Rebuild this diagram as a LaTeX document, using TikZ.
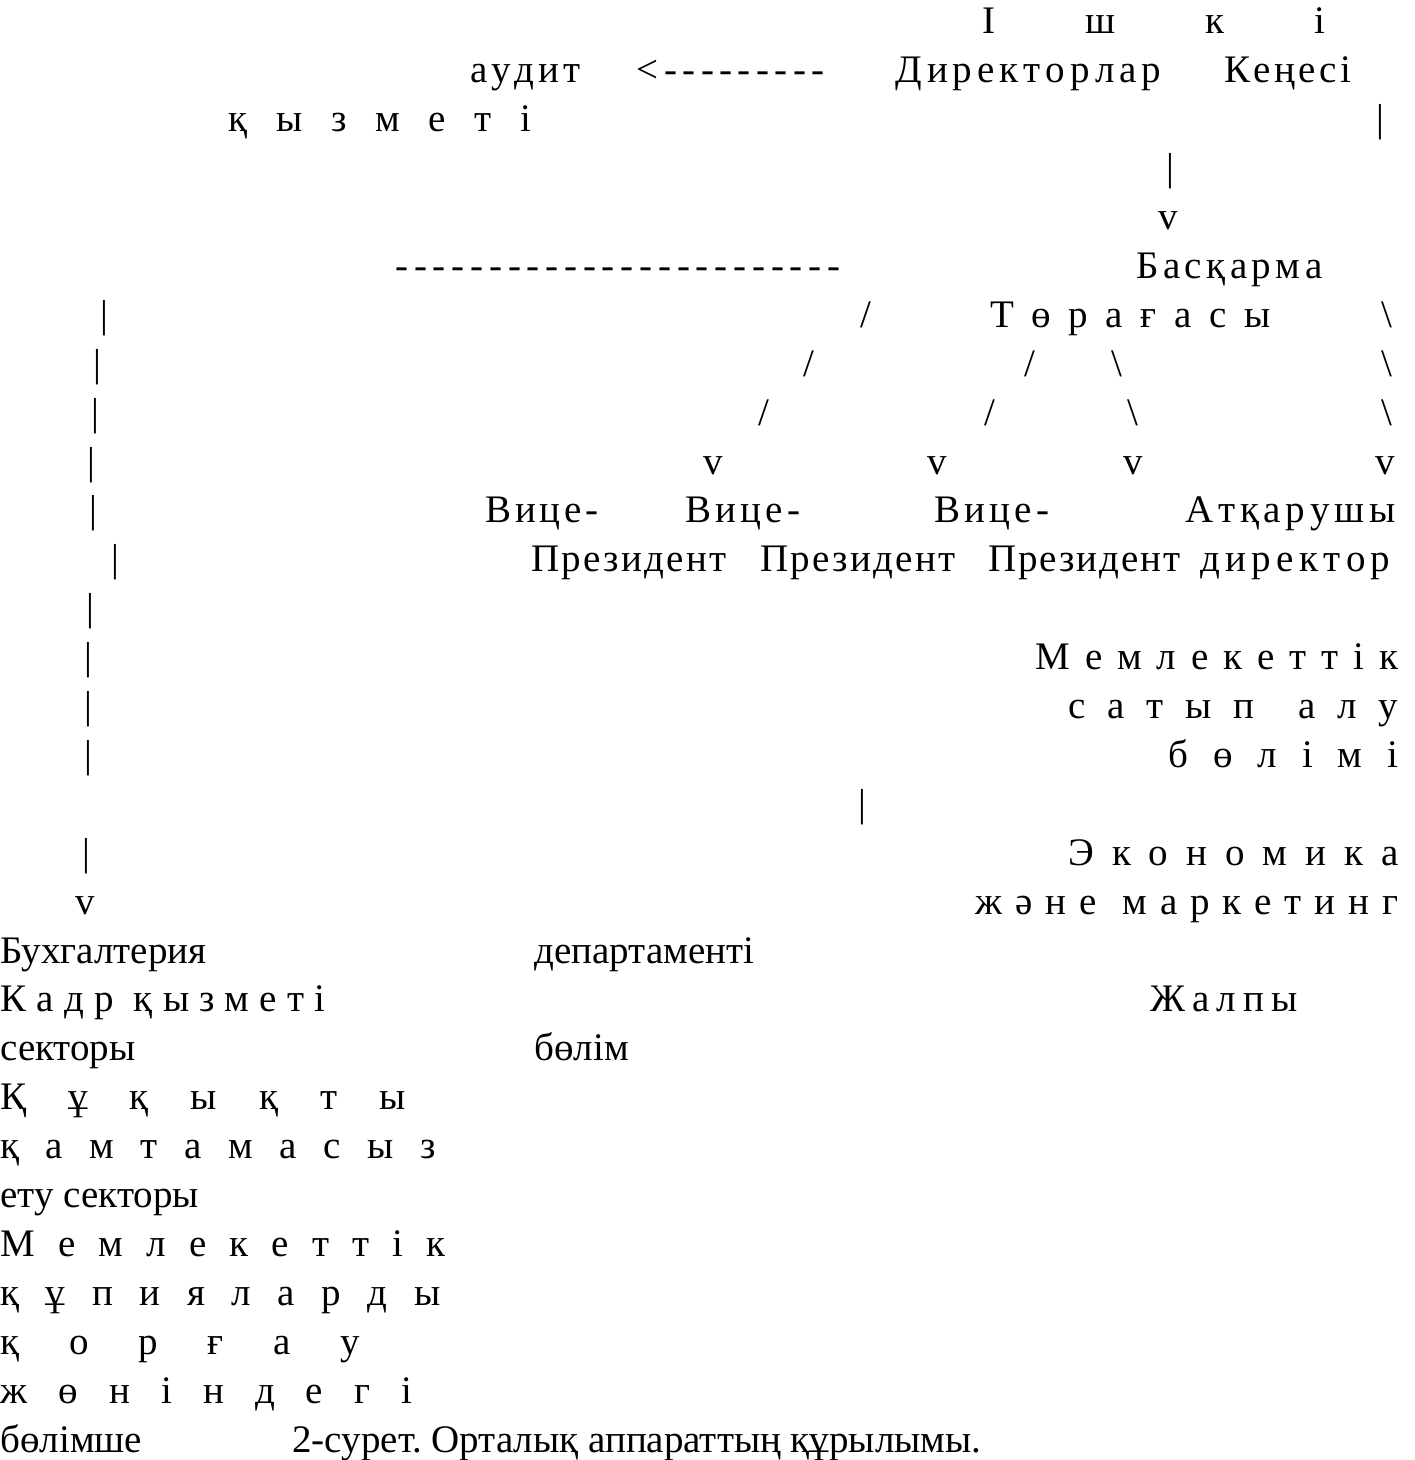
\documentclass[tikz,border=0pt]{standalone}
\usepackage{fontspec}
\setmainfont{Liberation Serif}[Ligatures=TeXOff]
\usepackage{tikz}
\newlength\px
\setlength\px{0.5pt}
\newcommand\fs{\fontsize{19.5pt}{24pt}\selectfont}
\newcommand\ls[2]{\makebox[#1\px][s]{\lsfirst#2\relax}}
\def\lsfirst#1{#1\lsrest}
\def\lsrest#1{\ifx#1\relax\else\hfill#1\expandafter\lsrest\fi}
\newcommand\wg{}
\frenchspacing

\begin{document}
\begin{tikzpicture}[x=0.5pt, y=-24.45pt,
		txt/.style={anchor=base west, inner sep=0pt, font=\fs},
		sym/.style={anchor=base, inner sep=0pt, font=\fs}
		]
		\useasboundingbox (0,0.305) rectangle (1415,30.162);
		\node[txt] (ishki) at (982,1) {\ls{343}{Ішкі}};
		\node[txt] (audit) at (470,2) {\ls{110}{аудит}};
		\node[txt] (lt) at (636,2) {<};
		\node[txt] (dashA) at (664,2) {\ls{160}{---------}};
		\node[txt] (direk) at (895,2) {\ls{266}{Директорлар}};
		\node[txt] (kenes) at (1224,2) {\ls{127}{Кеңесі}};
		\node[txt] (kyzm) at (228,3) {\ls{303}{қызметі}};
		\node[sym] (barA) at (1380,3) {|};
		\node[sym] (barB) at (1170,4) {|};
		\node[sym] (vB) at (1168,5) {v};
		\node[txt] (dashB) at (395,6) {\ls{445}{------------------------}};
		\node[txt] (bask) at (1136,6) {\ls{186}{Басқарма}};
		\node[sym] (l7) at (104,7) {|};
		\node[sym] (s7) at (866,7) {/};
		\node[txt] (torag) at (990,7) {\ls{280}{Төрағасы}};
		\node[sym] (b7) at (1387,7) {\textbackslash};
		\node[sym] (l8) at (97,8) {|};
		\node[sym] (s8a) at (809,8) {/};
		\node[sym] (s8b) at (1030,8) {/};
		\node[sym] (b8a) at (1117,8) {\textbackslash};
		\node[sym] (b8b) at (1387,8) {\textbackslash};
		\node[sym] (l9) at (95,9) {|};
		\node[sym] (s9a) at (764,9) {/};
		\node[sym] (s9b) at (990,9) {/};
		\node[sym] (b9a) at (1133,9) {\textbackslash};
		\node[sym] (b9b) at (1387,9) {\textbackslash};
		\node[sym] (l10) at (91,10) {|};
		\node[sym] (v10a) at (713,10) {v};
		\node[sym] (v10b) at (937,10) {v};
		\node[sym] (v10c) at (1133,10) {v};
		\node[sym] (v10d) at (1385,10) {v};
		\node[sym] (l11) at (93,11) {|};
		\node[txt] (vice1) at (485,11) {\ls{113}{Вице-}};
		\node[txt] (vice2) at (685,11) {\ls{115}{Вице-}};
		\node[txt] (vice3) at (934,11) {\ls{115}{Вице-}};
		\node[txt] (atkar) at (1185,11) {\ls{210}{Атқарушы}};
		\node[sym] (l12) at (115,12) {|};
		\node[txt] (pres1) at (531,12) {\ls{195}{Президент}};
		\node[txt] (pres2) at (760,12) {\ls{195}{Президент}};
		\node[txt] (pres3) at (988,12) {\ls{192}{Президент}};
		\node[txt] (direkt) at (1200,12) {\ls{190}{директор}};
		\node[sym] (l13) at (90,13) {|};
		\node[sym] (l14) at (88,14) {|};
		\node[txt] (meml) at (1035,14) {\ls{363}{Мемлекеттік}};
		\node[sym] (l15) at (88,15) {|};
		\node[txt] (satyp) at (1068,15) {\ls{330}{сатып\wg алу}};
		\node[sym] (l16) at (88,16) {|};
		\node[txt] (bolimi) at (1168,16) {\ls{230}{бөлімі}};
		\node[sym] (m17) at (862,17) {|};
		\node[sym] (l18) at (86,18) {|};
		\node[txt] (ekon) at (1068,18) {\ls{330}{Экономика}};
		\node[sym] (v19) at (85,19) {v};
		\node[txt] (market) at (975,19) {\ls{423}{және\wg маркетинг}};
		\node[txt] (buh) at (0,20) {Бухгалтерия};
		\node[txt] (depart) at (534,20) {департаменті};
		\node[txt] (kadr) at (0,21) {\ls{325}{Кадр\wg қызметі}};
		\node[txt] (zhalpy) at (1150,21) {\ls{147}{Жалпы}};
		\node[txt] (sekt1) at (0,22) {секторы};
		\node[txt] (bolim) at (534,22) {бөлім};
		\node[txt] (kuk) at (0,23) {\ls{405}{Құқықты}};
		\node[txt] (kamt) at (0,24) {\ls{435}{қамтамасыз}};
		\node[txt] (sekt2) at (0,25) {ету секторы};
		\node[txt] (meml2) at (0,26) {\ls{445}{Мемлекеттік}};
		\node[txt] (kup) at (0,27) {\ls{440}{құпияларды}};
		\node[txt] (korg) at (0,28) {\ls{360}{қорғау}};
		\node[txt] (zhon) at (0,29) {\ls{412}{жөніндегі}};
		\node[txt] (bolimshe) at (0,30) {бөлімше};
		\node[txt] (caption) at (292,30) {2-сурет. Орталық аппараттың құрылымы.};
	\end{tikzpicture}
\end{document}
